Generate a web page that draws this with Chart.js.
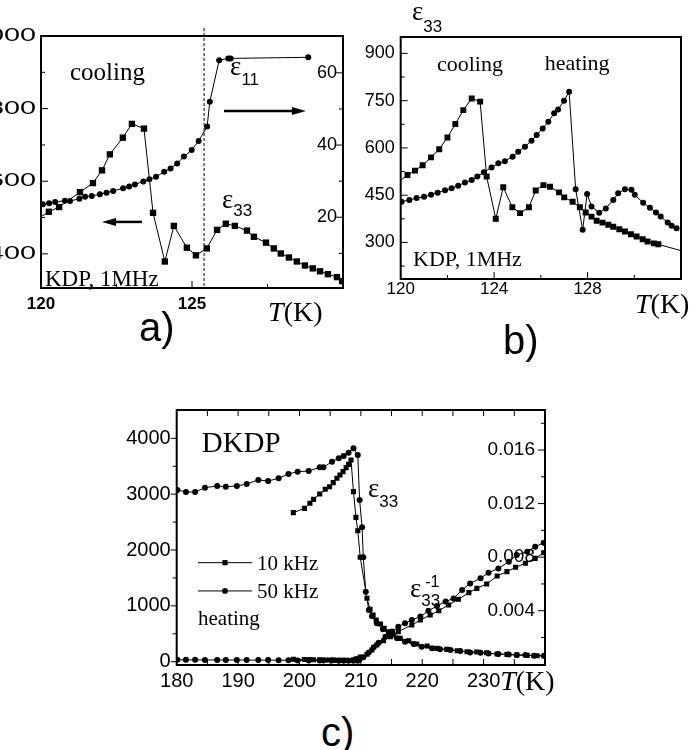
<!DOCTYPE html>
<html>
<head>
<meta charset="utf-8">
<title>KDP / DKDP dielectric permittivity</title>
<script src="https://cdn.jsdelivr.net/npm/chart.js@4.4.1/dist/chart.umd.min.js"></script>
<style>
    html, body { margin: 0; padding: 0; background: #fff; }
    body { position: relative; width: 695px; height: 750px; overflow: hidden; }
    .panel { position: absolute; }
    .tag { position: absolute; font: 40px/1 "Liberation Sans", Arial, sans-serif; color: #000; }
</style>
</head>
<body>
<canvas id="chartA" class="panel" width="360" height="340" style="left:0;top:0"></canvas>
<canvas id="chartB" class="panel" width="345" height="330" style="left:350px;top:0"></canvas>
<canvas id="chartC" class="panel" width="470" height="330" style="left:100px;top:380px"></canvas>
<div class="tag" style="left:139px;top:307px">a)</div>
<div class="tag" style="left:503px;top:320px">b)</div>
<div class="tag" style="left:321px;top:712px">c)</div>
<script>
// Dielectric permittivity of KDP / DKDP near the phase transition — three Chart.js panels
(function () {
    'use strict';

    var SANS = '"Liberation Sans", Arial, sans-serif';
    var SERIF = '"Liberation Serif", "Times New Roman", serif';

    // ── Panel a: KDP, 1 MHz, cooling ─────────────────────────────
    // eps33 (squares, left axis); first point is where the line enters the frame
    var aSqT = [120.0, 120.26, 120.60, 121.29, 121.72, 122.02, 122.28, 122.71, 123.01, 123.41, 123.71,
        124.10, 124.40, 124.83, 125.13, 125.49, 125.83, 126.12, 126.42, 126.82, 127.05, 127.45,
        127.71, 127.94, 128.21, 128.47, 128.74, 129.00, 129.24, 129.50, 129.80, 129.97];
    var aSqE = [502, 516, 529, 570, 595, 630, 674, 720, 758, 745, 513,
        379, 477, 417, 396, 415, 466, 483, 477, 464, 447, 431,
        415, 401, 390, 379, 368, 360, 352, 344, 336, 325];
    // eps11 (circles, right axis)
    var aCirT = [120.06, 120.27, 120.47, 120.79, 120.96, 121.27, 121.46, 121.68, 121.95, 122.17,
        122.39, 122.72, 122.92, 123.11, 123.39, 123.59, 123.81, 124.08, 124.29, 124.51,
        124.73, 124.99, 125.22, 125.50, 125.59, 125.90, 126.20, 126.28, 128.85];
    var aCirE = [23.6, 23.9, 24.2, 24.6, 24.5, 25.1, 25.7, 25.9, 26.4, 26.8,
        27.3, 28.0, 28.5, 29.1, 29.9, 30.5, 31.2, 32.6, 33.5, 34.9,
        36.8, 38.6, 41.1, 45.1, 52.0, 63.5, 64.0, 64.0, 64.3];
    var aLabelsX = [120, 125];
    var aLabelsY = [400, 600, 800, 1000];
    var aLabelsY2 = [20, 40, 60];
    var aTc = 125.4;                          // dashed line
    var aArrowLeft = [123.34, 122.02, 488];   // from T, to T, at eps33
    var aArrowRight = [126.06, 128.77, 49.4]; // from T, to T, at eps11

    // ── Panel b: KDP, 1 MHz, cooling vs heating ──────────────────
    var bSqT = [120.0, 120.29, 120.61, 120.94, 121.30, 121.65, 122.00, 122.34, 122.68, 123.04, 123.40,
        123.68, 124.07, 124.39, 124.78, 125.11, 125.49, 125.78, 126.11, 126.39, 126.78, 127.00,
        127.36, 127.67, 127.92, 128.17, 128.39, 128.64, 128.89, 129.10, 129.36, 129.60, 129.86,
        130.10, 130.36, 130.57, 130.84, 131.03, 132.0];
    var bSqE = [498, 514, 528, 545, 570, 596, 633, 676, 720, 757, 747,
        509, 375, 475, 412, 393, 412, 465, 482, 477, 459, 443,
        429, 412, 395, 382, 369, 363, 356, 350, 342, 335, 326,
        319, 310, 303, 297, 294, 274];
    var bCirT = [120.04, 120.37, 120.68, 121.00, 121.30, 121.58, 121.90, 122.18, 122.46, 122.75,
        123.04, 123.28, 123.56, 123.89, 124.18, 124.46, 124.79, 125.03, 125.32, 125.60,
        125.82, 126.08, 126.32, 126.57, 126.74, 126.99, 127.21, 127.49, 127.79, 127.98,
        128.17, 128.50, 128.78, 129.10, 129.31, 129.60, 129.88, 130.02, 130.38, 130.67,
        130.93, 131.13, 131.43, 131.60, 131.81];
    var bCirE = [429, 435, 441, 445, 451, 458, 466, 472, 480, 490,
        498, 509, 523, 538, 551, 558, 572, 588, 604, 623,
        641, 662, 683, 710, 722, 750, 778, 469, 340, 454,
        414, 394, 408, 435, 456, 469, 467, 451, 426, 410,
        395, 382, 363, 353, 345];
    var bLabelsX = [120, 124, 128];
    var bLabelsY = [300, 450, 600, 750, 900];

    // ── Panel c: DKDP, heating ───────────────────────────────────
    // eps33, 10 kHz (squares)
    var cSqT = [199.0, 200.8, 201.7, 202.3, 203.3, 204.2, 204.9, 205.5, 206.1, 206.6, 207.1, 207.6,
        208.0, 208.4, 208.8, 209.2, 209.5, 209.9, 211.0, 211.5, 212.0, 212.5, 213.2, 213.8,
        214.5, 215.3, 216.4, 217.8, 219.1, 220.8, 222.4, 224.0, 225.7, 227.3, 228.9, 230.5,
        232.2, 233.8, 235.4, 237.1, 238.7, 240.0];
    var cSqE = [2669, 2746, 2836, 2907, 3003, 3087, 3134, 3206, 3284, 3343, 3403, 3475,
        3534, 3612, 3045, 2585, 2346, 1869, 1135, 938, 836, 746, 675, 597,
        537, 478, 418, 376, 317, 281, 239, 221, 197, 179, 173, 161,
        137, 131, 119, 113, 107, 101];
    // eps33, 50 kHz (circles)
    var cCirT = [180.1, 181.5, 183.0, 184.6, 186.6, 188.0, 189.8, 191.4, 193.3, 194.9, 196.6, 198.2,
        199.7, 201.5, 203.3, 203.9, 205.3, 206.4, 207.2, 208.0, 208.8, 209.5, 209.8, 210.2,
        210.4, 210.8, 211.3, 211.8, 212.6, 213.6, 214.8, 215.9, 217.2, 218.6, 219.9, 221.6,
        222.9, 224.6, 226.2, 227.8, 229.5, 230.8, 232.4, 234.1, 235.4, 236.8, 238.2, 239.8];
    var cCirE = [3075, 3039, 3039, 3116, 3146, 3134, 3146, 3182, 3254, 3236, 3284, 3361,
        3403, 3415, 3481, 3481, 3582, 3642, 3684, 3743, 3821, 3701, 2896, 2406,
        1869, 1254, 925, 818, 687, 579, 478, 418, 358, 317, 269, 239,
        221, 209, 191, 167, 161, 149, 137, 131, 119, 119, 107, 107];
    // 1/eps33, 10 kHz (squares, right axis)
    var cSqInvT = [199.0, 200.8, 201.7, 202.3, 203.3, 204.2, 204.9, 205.5, 206.1, 206.6, 207.1, 207.6,
        208.0, 208.4, 208.8, 209.2, 209.5, 209.9, 211.0, 211.8, 212.6, 213.7, 214.8, 216.1,
        218.3, 219.7, 221.3, 222.7, 224.3, 225.9, 227.6, 228.9, 230.5, 232.2, 233.8, 235.2,
        236.8, 238.4, 239.8];
    var cSqInv = [0.00037, 0.00036, 0.00035, 0.00034, 0.00033, 0.00032, 0.00032, 0.00031, 0.00030, 0.00030, 0.00029, 0.00029,
        0.00028, 0.00028, 0.00033, 0.00039, 0.00043, 0.00053, 0.00075, 0.00107, 0.00144, 0.00176, 0.00206, 0.00244,
        0.00293, 0.00331, 0.00368, 0.00400, 0.00443, 0.00485, 0.00535, 0.00567, 0.00600, 0.00659, 0.00692, 0.00724,
        0.00754, 0.00791, 0.00833];
    // 1/eps33, 50 kHz (circles, right axis)
    var cCirInvT = [180.1, 181.5, 183.0, 184.6, 186.6, 188.0, 189.8, 191.4, 193.3, 194.9, 196.6, 198.2,
        199.7, 201.5, 203.3, 203.9, 205.3, 206.4, 207.2, 208.0, 208.8, 209.5, 209.8, 210.4,
        211.3, 212.1, 212.9, 214.0, 215.1, 216.1, 217.2, 218.3, 219.7, 221.0, 222.4, 223.8,
        225.1, 226.5, 227.8, 229.5, 230.8, 232.4, 234.1, 235.4, 237.1, 238.4, 239.8];
    var cCirInv = [0.00033, 0.00033, 0.00033, 0.00032, 0.00032, 0.00032, 0.00032, 0.00031, 0.00031, 0.00031, 0.00030, 0.00030,
        0.00029, 0.00029, 0.00029, 0.00029, 0.00028, 0.00027, 0.00027, 0.00027, 0.00026, 0.00027, 0.00035, 0.00052,
        0.00087, 0.00127, 0.00161, 0.00206, 0.00244, 0.00281, 0.00306, 0.00331, 0.00356, 0.00400, 0.00435, 0.00468,
        0.00492, 0.00555, 0.00604, 0.00642, 0.00684, 0.00716, 0.00766, 0.00816, 0.00841, 0.00878, 0.00908];
    var cLabelsX = [180, 190, 200, 210, 220, 230];
    var cLabelsY = [0, 1000, 2000, 3000, 4000];
    var cLabelsY2 = [0.004, 0.008, 0.012, 0.016];
    var cLegend = ['10 kHz', '50 kHz'];

    // ── helpers ──────────────────────────────────────────────────
    Chart.defaults.font.family = SANS;
    Chart.defaults.color = '#000';

    function points(xs, ys) {
        return xs.map(function (x, i) { return { x: x, y: ys[i] }; });
    }

    function series(xs, ys, axisId, style, r, hidden) {
        hidden = hidden || [];
        return {
            data: points(xs, ys),
            yAxisID: axisId,
            borderColor: '#000',
            borderWidth: 1,
            tension: 0,
            pointStyle: style,
            pointRadius: xs.map(function (x, i) { return hidden.indexOf(i) >= 0 ? 0 : r; }),
            pointBackgroundColor: '#000',
            pointBorderColor: '#000',
            pointBorderWidth: 0
        };
    }

    // scale with fixed range; labels and tick marks are drawn by the decor plugin
    function axis(min, max, fit, position) {
        var o = {
            type: 'linear',
            min: min,
            max: max,
            grid: { display: false },
            border: { display: false },
            ticks: { display: false },
            afterFit: fit
        };
        if (position) o.position = position;
        return o;
    }

    function drawParts(ctx, x, y, parts) {
        parts.forEach(function (p) {
            ctx.font = p[1];
            ctx.fillText(p[0], x, y + (p[2] || 0));
            x += ctx.measureText(p[0]).width;
        });
    }

    function isMultiple(v, step) {
        var q = v / step;
        return Math.abs(q - Math.round(q)) < 1e-6;
    }

    // frame, tick marks, tick labels and annotations, all placed through the chart's scales
    function decor(cfg) {
        return {
            id: 'decor',
            beforeDatasetsDraw: function (chart) {
                var ctx = chart.ctx, a = chart.chartArea;
                ctx.save();
                ctx.fillStyle = '#000';
                (cfg.labels || []).forEach(function (lb) {
                    var sc = chart.scales[lb.scale];
                    ctx.font = lb.font;
                    lb.values.forEach(function (v) {
                        var p = sc.getPixelForValue(v);
                        var txt = lb.digits ? v.toFixed(lb.digits) : String(v);
                        if (lb.side === 'bottom') {
                            ctx.textAlign = 'center';
                            ctx.textBaseline = 'top';
                            ctx.fillText(txt, p, a.bottom + lb.gap);
                        } else {
                            ctx.textAlign = 'right';
                            ctx.textBaseline = 'middle';
                            ctx.save();
                            ctx.translate((lb.side === 'left' ? a.left : a.right) - lb.gap, p);
                            ctx.scale(lb.stretch || 1, 1);
                            ctx.fillText(txt, 0, 0);
                            ctx.restore();
                        }
                    });
                });
                ctx.restore();
            },
            afterDatasetsDraw: function (chart) {
                var ctx = chart.ctx, a = chart.chartArea;
                ctx.save();
                ctx.strokeStyle = '#000';
                ctx.lineWidth = 1;
                (cfg.marks || []).forEach(function (m) {
                    var sc = chart.scales[m.scale];
                    var vertical = m.side === 'left' || m.side === 'right';
                    for (var k = Math.ceil(sc.min / m.step - 1e-9); k * m.step <= sc.max + 1e-12; k++) {
                        var v = k * m.step;
                        var p = sc.getPixelForValue(v);
                        var len = (isMultiple(v, m.major) ? m.len : m.minor) * (m.out ? -1 : 1);
                        if (vertical && (p <= a.top + 1 || p >= a.bottom - 1)) continue;
                        if (!vertical && (p <= a.left + 1 || p >= a.right - 1)) continue;
                        ctx.beginPath();
                        if (m.side === 'left') { ctx.moveTo(a.left, p); ctx.lineTo(a.left + len, p); }
                        if (m.side === 'right') { ctx.moveTo(a.right, p); ctx.lineTo(a.right - len, p); }
                        if (m.side === 'bottom') { ctx.moveTo(p, a.bottom); ctx.lineTo(p, a.bottom - len); }
                        if (m.side === 'top') { ctx.moveTo(p, a.top); ctx.lineTo(p, a.top + len); }
                        ctx.stroke();
                    }
                });
                ctx.lineWidth = cfg.frame;
                ctx.strokeRect(a.left, a.top, a.right - a.left, a.bottom - a.top);
                ctx.restore();
            },
            afterDraw: function (chart) {
                var ctx = chart.ctx, a = chart.chartArea, xs = chart.scales.x;
                ctx.save();
                ctx.fillStyle = '#000';
                ctx.strokeStyle = '#000';
                ctx.textAlign = 'left';
                ctx.textBaseline = 'alphabetic';

                (cfg.dashed || []).forEach(function (d) {
                    var x = xs.getPixelForValue(d.x);
                    ctx.lineWidth = 1;
                    ctx.setLineDash([3, 2]);
                    ctx.beginPath();
                    ctx.moveTo(x, a.top - d.above);
                    ctx.lineTo(x, a.bottom);
                    ctx.stroke();
                    ctx.setLineDash([]);
                });

                (cfg.arrows || []).forEach(function (ar) {
                    var y = chart.scales[ar.axis].getPixelForValue(ar.at[2]);
                    var x1 = xs.getPixelForValue(ar.at[0]), x2 = xs.getPixelForValue(ar.at[1]);
                    var dir = x2 > x1 ? 1 : -1;
                    ctx.lineWidth = 2.5;
                    ctx.beginPath();
                    ctx.moveTo(x1, y);
                    ctx.lineTo(x2 - dir * 10, y);
                    ctx.stroke();
                    ctx.beginPath();
                    ctx.moveTo(x2, y);
                    ctx.lineTo(x2 - dir * 14, y - 4);
                    ctx.lineTo(x2 - dir * 14, y + 4);
                    ctx.closePath();
                    ctx.fill();
                });

                (cfg.legend || []).forEach(function (lg) {
                    var y = chart.scales.y.getPixelForValue(lg.y);
                    var cx = xs.getPixelForValue(lg.at);
                    ctx.lineWidth = 1;
                    ctx.beginPath();
                    ctx.moveTo(xs.getPixelForValue(lg.from), y);
                    ctx.lineTo(xs.getPixelForValue(lg.to), y);
                    ctx.stroke();
                    ctx.beginPath();
                    if (lg.style === 'rect') {
                        ctx.rect(cx - lg.r, y - lg.r, 2 * lg.r, 2 * lg.r);
                    } else {
                        ctx.arc(cx, y, lg.r, 0, Math.PI * 2);
                    }
                    ctx.fill();
                });

                (cfg.texts || []).forEach(function (tx) {
                    var x = xs.getPixelForValue(tx.x);
                    var y = chart.scales[tx.axis || 'y'].getPixelForValue(tx.y);
                    drawParts(ctx, x, y, tx.parts);
                });
                ctx.restore();
            }
        };
    }

    function make(id, datasets, scales, padding, plugin) {
        return new Chart(document.getElementById(id).getContext('2d'), {
            type: 'line',
            data: { datasets: datasets },
            options: {
                responsive: false,
                animation: false,
                events: [],
                layout: { padding: padding, autoPadding: false },
                scales: scales,
                plugins: { legend: { display: false }, tooltip: { enabled: false } }
            },
            plugins: [plugin]
        });
    }

    var EPS = '27px ' + SERIF;
    var SUB = '17px ' + SANS;
    function tk(size) {
        return [['T', 'italic ' + size + 'px ' + SERIF], ['(K)', size + 'px ' + SERIF]];
    }

    // ── Panel a ──────────────────────────────────────────────────
    make('chartA', [
        series(aSqT, aSqE, 'y', 'rect', 4.5, [0]),
        series(aCirT, aCirE, 'y2', 'circle', 3)
    ], {
        x: axis(120, 130, function (s) { s.height = 52; }),
        y: axis(306, 1000, function (s) { s.width = 41; }, 'left'),
        y2: axis(0.4, 70.2, function (s) { s.width = 0; }, 'right')
    }, { left: 0, top: 36, right: 17, bottom: 0 }, decor({
        frame: 2,
        labels: [
            { scale: 'x', side: 'bottom', values: aLabelsX, font: 'bold 17px ' + SANS, gap: 8 },
            { scale: 'y', side: 'left', values: aLabelsY, font: '18px ' + SANS, gap: 5, stretch: 1.6 },
            { scale: 'y2', side: 'right', values: aLabelsY2, font: '18px ' + SANS, gap: 6 }
        ],
        marks: [
            { scale: 'x', side: 'bottom', step: 2.5, major: 5, len: 7, minor: 4 },
            { scale: 'y', side: 'left', step: 100, major: 200, len: 7, minor: 4 },
            { scale: 'y2', side: 'right', step: 10, major: 20, len: 7, minor: 4 }
        ],
        dashed: [{ x: aTc, above: 8 }],
        arrows: [{ axis: 'y', at: aArrowLeft }, { axis: 'y2', at: aArrowRight }],
        texts: [
            { x: 120.96, y: 879, parts: [['cooling', '25px ' + SERIF]] },
            { x: 126.26, y: 893, parts: [['ε', EPS], ['11', SUB, 10]] },
            { x: 125.99, y: 526, parts: [['ε', EPS], ['33', SUB, 8]] },
            { x: 120.13, y: 312, parts: [['KDP, 1MHz', '23px ' + SERIF]] },
            { x: 127.52, y: 215, parts: tk(28) }
        ]
    }));

    // ── Panel b ──────────────────────────────────────────────────
    make('chartB', [
        series(bSqT, bSqE, 'y', 'rect', 4.2, [0, bSqT.length - 1]),
        series(bCirT, bCirE, 'y', 'circle', 3)
    ], {
        x: axis(120, 132, function (s) { s.height = 51; }),
        y: axis(184, 952, function (s) { s.width = 50.7; }, 'left')
    }, { left: 0, top: 37, right: 14, bottom: 0 }, decor({
        frame: 2,
        labels: [
            { scale: 'x', side: 'bottom', values: bLabelsX, font: '17px ' + SANS, gap: 2 },
            { scale: 'y', side: 'left', values: bLabelsY, font: '18px ' + SANS, gap: 6 }
        ],
        marks: [
            { scale: 'x', side: 'bottom', step: 2, major: 4, len: 7, minor: 4 },
            { scale: 'y', side: 'left', step: 75, major: 150, len: 7, minor: 4 }
        ],
        texts: [
            { x: 120.48, y: 1006, parts: [['ε', EPS], ['33', SUB, 12]] },
            { x: 121.55, y: 844, parts: [['cooling', '22px ' + SERIF]] },
            { x: 126.17, y: 847, parts: [['heating', '22px ' + SERIF]] },
            { x: 120.53, y: 225, parts: [['KDP, 1MHz', '22px ' + SERIF]] },
            { x: 130.03, y: 76.5, parts: tk(28) }
        ]
    }));

    // ── Panel c ──────────────────────────────────────────────────
    make('chartC', [
        series(cSqT, cSqE, 'y', 'rect', 3.6),
        series(cCirT, cCirE, 'y', 'circle', 3),
        series(cSqInvT, cSqInv, 'y2', 'rect', 3.6),
        series(cCirInvT, cCirInv, 'y2', 'circle', 3)
    ], {
        x: axis(180, 240, function (s) { s.height = 45; }),
        y: axis(-59, 4507, function (s) { s.width = 76.7; }, 'left'),
        y2: axis(-0.000055, 0.01899, function (s) { s.width = 0; }, 'right')
    }, { left: 0, top: 30, right: 25, bottom: 0 }, decor({
        frame: 2,
        labels: [
            { scale: 'x', side: 'bottom', values: cLabelsX, font: '20px ' + SANS, gap: 6 },
            { scale: 'y', side: 'left', values: cLabelsY, font: '20px ' + SANS, gap: 6 },
            { scale: 'y2', side: 'right', values: cLabelsY2, font: '19px ' + SANS, gap: 10, digits: 3 }
        ],
        marks: [
            { scale: 'x', side: 'bottom', step: 5, major: 10, len: 6, minor: 6 },
            { scale: 'x', side: 'top', step: 5, major: 10, len: 6, minor: 6 },
            { scale: 'y', side: 'left', step: 500, major: 1000, len: 6, minor: 4, out: true },
            { scale: 'y2', side: 'right', step: 0.002, major: 0.004, len: 7, minor: 4 }
        ],
        legend: [
            { y: 1773, from: 183.47, to: 192.26, at: 187.87, style: 'rect', r: 2.6 },
            { y: 1267, from: 183.47, to: 192.26, at: 187.87, style: 'circle', r: 2.9 }
        ],
        texts: [
            { x: 184.07, y: 3755, parts: [['DKDP', '29px ' + SERIF]] },
            { x: 211.16, y: 2949, parts: [['ε', EPS], ['33', SUB, 10]] },
            { x: 218.0, y: 1158, parts: [['ε', EPS], ['33', SUB, 9]] },
            { x: 220.49, y: 1338, parts: [['-1', '16px ' + SANS]] },
            { x: 193.08, y: 1642, parts: [[cLegend[0], '21px ' + SERIF]] },
            { x: 193.08, y: 1140, parts: [[cLegend[1], '21px ' + SERIF]] },
            { x: 183.47, y: 657, parts: [['heating', '21px ' + SERIF]] },
            { x: 232.7, y: -507, parts: tk(28) }
        ]
    }));
})();
</script>
</body>
</html>
